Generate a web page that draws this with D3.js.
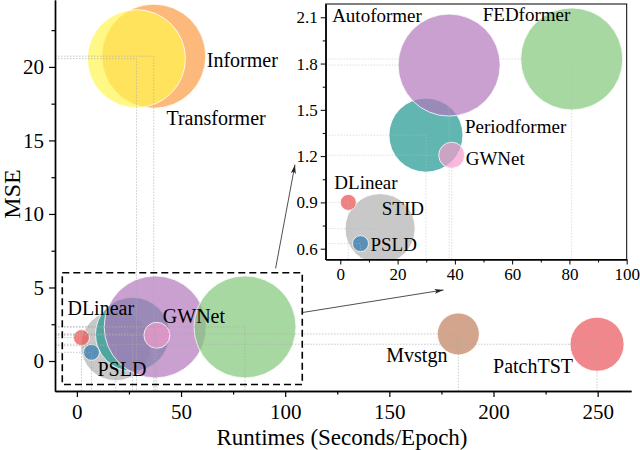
<!DOCTYPE html>
<html>
<head>
<meta charset="utf-8">
<script src="https://cdn.jsdelivr.net/npm/d3@7"></script>
<style>
body { margin: 0; background: #fff; }
svg { display: block; }
text { font-family: "Liberation Serif", "Times New Roman", serif; fill: #000; }
</style>
</head>
<body>
<svg id="chart" width="640" height="450"></svg>
<script>
// main chart data (runtime in seconds/epoch, MSE, bubble size)
var models  = ["Informer", "Transformer", "STID", "Periodformer", "Autoformer", "FEDformer", "GWNet", "DLinear", "PSLD", "Mvstgn", "PatchTST"];
var runtime = [36.9, 28.6, 18.7, 26.7, 37.6, 80.7, 38.4, 2.2, 7.0, 183.1, 249.7];
var mse     = [20.73, 20.56, 1.04, 1.82, 2.32, 2.32, 1.75, 1.59, 0.59, 1.84, 1.14];
var bubble  = [52, 49, 35, 37, 51, 51, 13, 8, 8, 21, 27];

// zoomed inset data
var zoomModels  = ["STID", "Periodformer", "Autoformer", "FEDformer", "GWNet", "DLinear", "PSLD"];
var zoomRuntime = [13.9, 29.9, 38.0, 80.8, 38.9, 2.8, 7.05];
var zoomMse     = [0.73, 1.336, 1.79, 1.83, 1.206, 0.90, 0.633];

// tick labels
var xTicks = [0, 50, 100, 150, 200, 250];
var yTicks = [0, 5, 10, 15, 20];
var zoomXTicks = [0, 20, 40, 60, 80, 100];
var zoomYTicks = [0.6, 0.9, 1.2, 1.5, 1.8, 2.1];

// styles
var colors = {
    Informer: "#fc9b45", Transformer: "#fff550", STID: "#b0b0b0", Periodformer: "#1f9790",
    Autoformer: "#b277bc", FEDformer: "#83c87a", GWNet: "#f79bcd", DLinear: "#ea4c4c",
    PSLD: "#2977b0", Mvstgn: "#bf7f5b", PatchTST: "#ea545b"
};
// label offsets in pixels from bubble centre
var mainLabels = {
    Informer: [53, 11], Transformer: [30, 66], DLinear: [-14, -23], GWNet: [6, -12],
    PSLD: [6, 24], Mvstgn: [-72, 28], PatchTST: [-104, 29]
};
var zoomLabels = {
    Autoformer: [-117, -43], FEDformer: [-89, -38], Periodformer: [39, -2], GWNet: [14, 10],
    DLinear: [-14, -13.5], STID: [1.6, -14], PSLD: [10, 7]
};
// zoom box and arrows in main data units
var zoomBox = {x0: -7, x1: 108.2, y0: -1.6, y1: 6.0};
var arrows = [
    [[95.4, 6.3], [104.7, 13.35]],
    [[108.4, 3.3], [176, 4.83]]
];

var svg = d3.select("#chart");

var x = d3.scaleLinear().domain([-10.5, 266]).range([55, 631]);
var y = d3.scaleLinear().domain([-2.04, 24.55]).range([391, 0]);
var r = d3.scaleLinear().domain([0, 50]).range([0, 50]);

var sizeOf = {};
models.forEach(function(m, i) { sizeOf[m] = bubble[i]; });

var mainData = models.map(function(m, i) {
    return {name: m, x: runtime[i], y: mse[i], s: bubble[i]};
});
var zoomData = zoomModels.map(function(m, i) {
    return {name: m, x: zoomRuntime[i], y: zoomMse[i], s: sizeOf[m]};
});

/* ---- main chart ----------------------------- */
var main = svg.append("g");

main.selectAll("circle.b").data(mainData).enter().append("circle")
    .attr("class", "b")
    .attr("cx", function(d) { return x(d.x); })
    .attr("cy", function(d) { return y(d.y); })
    .attr("r", function(d) { return r(d.s); })
    .attr("fill", function(d) { return colors[d.name]; })
    .attr("fill-opacity", 0.7)
    .attr("stroke", "#fff")
    .attr("stroke-width", 0.8);

// drop lines
main.selectAll("path.drop").data(mainData).enter().append("path")
    .attr("class", "drop")
    .attr("d", function(d) {
        return "M" + x.range()[0] + "," + y(d.y) + "H" + x(d.x) + "V" + y.range()[0];
    })
    .attr("fill", "none")
    .attr("stroke", "#aaa")
    .attr("stroke-opacity", 0.8)
    .attr("stroke-width", 0.8)
    .attr("stroke-dasharray", "1.5,1.5");

main.selectAll("text.lab").data(mainData.filter(function(d) { return mainLabels[d.name]; }))
    .enter().append("text")
    .attr("class", "lab")
    .attr("x", function(d) { return x(d.x) + mainLabels[d.name][0]; })
    .attr("y", function(d) { return y(d.y) + mainLabels[d.name][1]; })
    .attr("font-size", 20)
    .text(function(d) { return d.name; });

// axes
main.append("g").attr("transform", "translate(0," + y.range()[0] + ")")
    .call(d3.axisBottom(x).tickValues(xTicks).tickSize(6).tickSizeOuter(0).tickPadding(7));
main.append("g").attr("transform", "translate(0," + y.range()[0] + ")")
    .call(d3.axisBottom(x).tickValues([25, 75, 125, 175, 225]).tickSize(3.5).tickSizeOuter(0).tickFormat(""));
main.append("g").attr("transform", "translate(" + x.range()[0] + ",0)")
    .call(d3.axisLeft(y).tickValues(yTicks).tickSize(6).tickSizeOuter(0).tickPadding(5));
main.append("g").attr("transform", "translate(" + x.range()[0] + ",0)")
    .call(d3.axisLeft(y).tickValues([2.5, 7.5, 12.5, 17.5, 22.5]).tickSize(3.5).tickSizeOuter(0).tickFormat(""));

main.selectAll(".domain").attr("stroke-width", 1.4);
main.selectAll(".tick line").attr("stroke-width", 1.2);
main.selectAll(".tick text").attr("font-size", 21);

main.append("text")
    .attr("x", 342).attr("y", 445)
    .attr("text-anchor", "middle")
    .attr("font-size", 23)
    .text("Runtimes (Seconds/Epoch)");
main.append("text")
    .attr("transform", "translate(20,194) rotate(-90)")
    .attr("text-anchor", "middle")
    .attr("font-size", 24)
    .text("MSE");

// zoom box and arrows
main.append("rect")
    .attr("x", x(zoomBox.x0)).attr("y", y(zoomBox.y1))
    .attr("width", x(zoomBox.x1) - x(zoomBox.x0))
    .attr("height", y(zoomBox.y0) - y(zoomBox.y1))
    .attr("fill", "none")
    .attr("stroke", "#000")
    .attr("stroke-width", 1.6)
    .attr("stroke-dasharray", "7,4");

svg.append("defs").append("marker")
    .attr("id", "arr")
    .attr("markerUnits", "userSpaceOnUse")
    .attr("markerWidth", 10).attr("markerHeight", 6)
    .attr("refX", 9).attr("refY", 3)
    .attr("orient", "auto")
    .append("path")
    .attr("d", "M0,0.5L9,3L0,5.5L2,3z")
    .attr("fill", "#222");

/* ---- inset ----------------------------- */
var ix = d3.scaleLinear().domain([-5.1, 100]).range([325.7, 626.7]);
var iy = d3.scaleLinear().domain([0.53, 2.186]).range([259.5, 4]);

var inset = svg.append("g");
inset.append("rect")
    .attr("x", ix.range()[0]).attr("y", iy.range()[1])
    .attr("width", ix.range()[1] - ix.range()[0])
    .attr("height", iy.range()[0] - iy.range()[1])
    .attr("fill", "#fff");

inset.append("clipPath").attr("id", "iclip").append("rect")
    .attr("x", ix.range()[0]).attr("y", iy.range()[1])
    .attr("width", ix.range()[1] - ix.range()[0])
    .attr("height", iy.range()[0] - iy.range()[1]);

var ip = inset.append("g").attr("clip-path", "url(#iclip)");
ip.selectAll("circle").data(zoomData).enter().append("circle")
    .attr("cx", function(d) { return ix(d.x); })
    .attr("cy", function(d) { return iy(d.y); })
    .attr("r", function(d) { return r(d.s); })
    .attr("fill", function(d) { return colors[d.name]; })
    .attr("fill-opacity", 0.7)
    .attr("stroke", "#fff")
    .attr("stroke-width", 0.8);

ip.selectAll("path.drop").data(zoomData).enter().append("path")
    .attr("class", "drop")
    .attr("d", function(d) {
        return "M" + ix.range()[0] + "," + iy(d.y) + "H" + ix(d.x) + "V" + iy.range()[0];
    })
    .attr("fill", "none")
    .attr("stroke", "#bbb")
    .attr("stroke-opacity", 0.6)
    .attr("stroke-width", 0.8)
    .attr("stroke-dasharray", "1.5,1.5");

inset.selectAll("text.lab").data(zoomData).enter().append("text")
    .attr("class", "lab")
    .attr("x", function(d) { return ix(d.x) + zoomLabels[d.name][0]; })
    .attr("y", function(d) { return iy(d.y) + zoomLabels[d.name][1]; })
    .attr("font-size", 19)
    .text(function(d) { return d.name; });

inset.append("g").attr("transform", "translate(0," + iy.range()[0] + ")")
    .call(d3.axisBottom(ix).tickValues(zoomXTicks).tickSize(5).tickSizeOuter(0).tickPadding(3));
inset.append("g").attr("transform", "translate(0," + iy.range()[0] + ")")
    .call(d3.axisBottom(ix).tickValues([10, 30, 50, 70, 90]).tickSize(3).tickSizeOuter(0).tickFormat(""));
inset.append("g").attr("transform", "translate(" + ix.range()[0] + ",0)")
    .call(d3.axisLeft(iy).tickValues(zoomYTicks).tickSize(5).tickSizeOuter(0).tickPadding(3).tickFormat(d3.format(".1f")));
inset.append("g").attr("transform", "translate(" + ix.range()[0] + ",0)")
    .call(d3.axisLeft(iy).tickValues([0.75, 1.05, 1.35, 1.65, 1.95]).tickSize(3).tickSizeOuter(0).tickFormat(""));

inset.selectAll(".domain").attr("stroke-width", 1);
inset.selectAll(".tick text").attr("font-size", 17);

inset.append("rect")
    .attr("x", ix.range()[0]).attr("y", iy.range()[1])
    .attr("width", ix.range()[1] - ix.range()[0])
    .attr("height", iy.range()[0] - iy.range()[1])
    .attr("fill", "none")
    .attr("stroke", "#000")
    .attr("stroke-width", 1);

svg.selectAll("line.arrow").data(arrows).enter().append("line")
    .attr("class", "arrow")
    .attr("x1", function(d) { return x(d[0][0]); })
    .attr("y1", function(d) { return y(d[0][1]); })
    .attr("x2", function(d) { return x(d[1][0]); })
    .attr("y2", function(d) { return y(d[1][1]); })
    .attr("stroke", "#222")
    .attr("stroke-width", 0.8)
    .attr("marker-end", "url(#arr)");
</script>
</body>
</html>
